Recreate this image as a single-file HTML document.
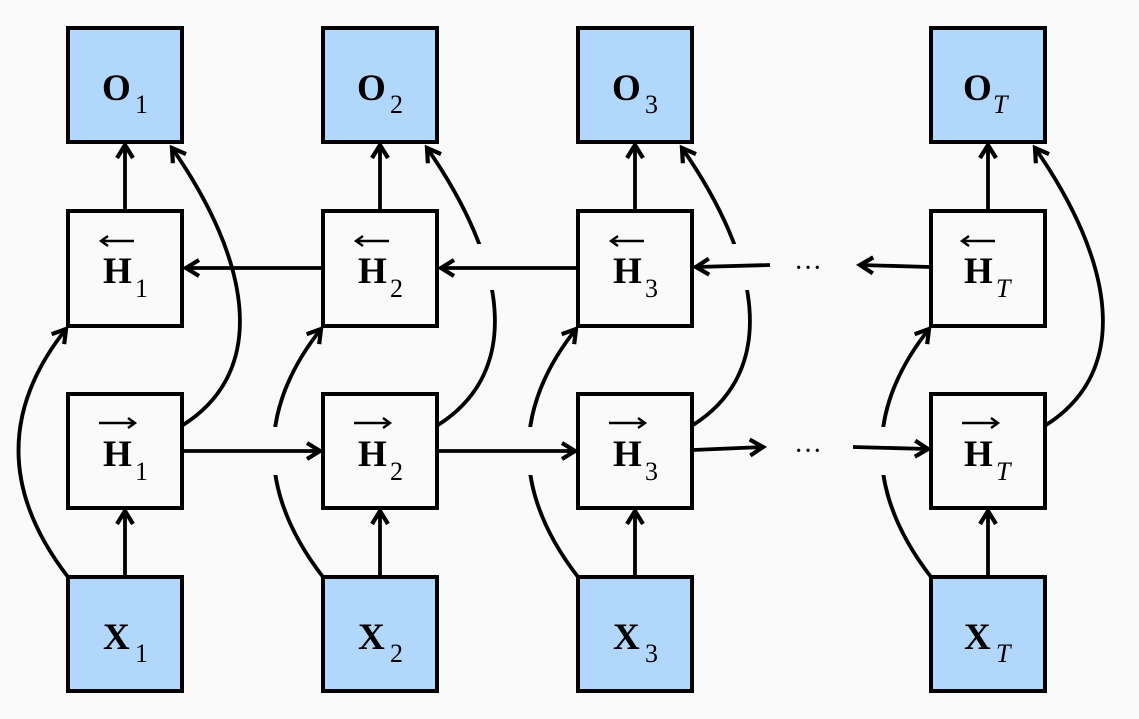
<!DOCTYPE html>
<html><head><meta charset="utf-8"><style>
html,body{margin:0;padding:0;background:#fafafa;}
svg{display:block}
svg text{font-family:"Liberation Serif","Times New Roman",Times,serif;}
</style></head><body>
<svg width="1139" height="719" viewBox="0 0 1139 719" xmlns="http://www.w3.org/2000/svg">
<defs>
<marker id="a" markerWidth="24" markerHeight="24" refX="15" refY="10" orient="auto" markerUnits="userSpaceOnUse">
<path d="M2,2 L15,10 L2,18" fill="none" stroke="#000" stroke-width="4.2"/>
</marker>
</defs>
<rect width="1139" height="719" fill="#fafafa"/>
<g fill="none" stroke="#000" stroke-width="3.8">
<path d="M68,577 Q-30,450 66,329" marker-end="url(#a)"/>
<path d="M183,425 C270,370 250,260 172,148" marker-end="url(#a)"/>
<path d="M323,577 Q225,450 321,329" marker-end="url(#a)"/>
<path d="M438,425 C525,370 505,260 427,148" marker-end="url(#a)"/>
<path d="M578,577 Q480,450 576,329" marker-end="url(#a)"/>
<path d="M693,425 C780,370 760,260 682,148" marker-end="url(#a)"/>
<path d="M931,577 Q833,450 929,329" marker-end="url(#a)"/>
<path d="M1046,425 C1133,370 1113,260 1035,148" marker-end="url(#a)"/>
</g>
<g fill="#fafafa">
<rect x="262" y="427" width="30" height="48"/>
<rect x="517" y="427" width="30" height="48"/>
<rect x="870" y="427" width="30" height="48"/>
<rect x="470" y="244" width="35" height="46"/>
<rect x="725" y="244" width="35" height="46"/>
</g>
<g fill="none" stroke="#000" stroke-width="3.8">
<line x1="125" y1="577" x2="125" y2="511" marker-end="url(#a)"/>
<line x1="380" y1="577" x2="380" y2="511" marker-end="url(#a)"/>
<line x1="635" y1="577" x2="635" y2="511" marker-end="url(#a)"/>
<line x1="988" y1="577" x2="988" y2="511" marker-end="url(#a)"/>
<line x1="125" y1="211" x2="125" y2="145" marker-end="url(#a)"/>
<line x1="380" y1="211" x2="380" y2="145" marker-end="url(#a)"/>
<line x1="635" y1="211" x2="635" y2="145" marker-end="url(#a)"/>
<line x1="988" y1="211" x2="988" y2="145" marker-end="url(#a)"/>
<line x1="183" y1="451" x2="320" y2="451" marker-end="url(#a)"/>
<line x1="438" y1="451" x2="575" y2="451" marker-end="url(#a)"/>
<line x1="693" y1="450" x2="763" y2="447" marker-end="url(#a)"/>
<line x1="853" y1="447" x2="928" y2="449" marker-end="url(#a)"/>
<line x1="323" y1="268" x2="186" y2="268" marker-end="url(#a)"/>
<line x1="578" y1="268" x2="441" y2="268" marker-end="url(#a)"/>
<line x1="770" y1="265" x2="696" y2="267" marker-end="url(#a)"/>
<line x1="930" y1="267" x2="860" y2="265" marker-end="url(#a)"/>
</g>
<g font-size="28" text-anchor="middle" fill="#000">
<text x="808" y="277">···</text>
<text x="808" y="460">···</text>
</g>
<g stroke="#000" stroke-width="4">
<g fill="#b2d7fc">
<rect x="68" y="28" width="114" height="114"/><rect x="323" y="28" width="114" height="114"/>
<rect x="578" y="28" width="114" height="114"/><rect x="931" y="28" width="114" height="114"/>
<rect x="68" y="577" width="114" height="114"/><rect x="323" y="577" width="114" height="114"/>
<rect x="578" y="577" width="114" height="114"/><rect x="931" y="577" width="114" height="114"/>
</g>
<g fill="#fafafa">
<rect x="68" y="211" width="114" height="115"/><rect x="323" y="211" width="114" height="115"/>
<rect x="578" y="211" width="114" height="115"/><rect x="931" y="211" width="114" height="115"/>
<rect x="68" y="394" width="114" height="114"/><rect x="323" y="394" width="114" height="114"/>
<rect x="578" y="394" width="114" height="114"/><rect x="931" y="394" width="114" height="114"/>
</g>
</g>
<g font-size="37" font-weight="bold" fill="#000">
<text x="102" y="100">O</text><text x="357" y="100">O</text><text x="612" y="100">O</text><text x="963" y="100">O</text>
<text x="103" y="649">X</text><text x="358" y="649">X</text><text x="613" y="649">X</text><text x="964" y="649">X</text>
<text x="103" y="283">H</text><text x="358" y="283">H</text><text x="613" y="283">H</text><text x="964" y="283">H</text>
<text x="103" y="466">H</text><text x="358" y="466">H</text><text x="613" y="466">H</text><text x="964" y="466">H</text>
</g>
<g font-size="26" fill="#000">
<text x="135" y="113">1</text><text x="390" y="113">2</text><text x="645" y="113">3</text><text x="993" y="113" font-style="italic">T</text>
<text x="135" y="662">1</text><text x="390" y="662">2</text><text x="645" y="662">3</text><text x="996" y="662" font-style="italic">T</text>
<text x="135" y="297">1</text><text x="390" y="297">2</text><text x="645" y="297">3</text><text x="996" y="297" font-style="italic">T</text>
<text x="135" y="480">1</text><text x="390" y="480">2</text><text x="645" y="480">3</text><text x="996" y="480" font-style="italic">T</text>
</g>
<g fill="none" stroke="#000" stroke-width="2.4">
<path d="M101,241 H134 M108,236 L101,241 L108,246"/>
<path d="M356,241 H389 M363,236 L356,241 L363,246"/>
<path d="M611,241 H644 M618,236 L611,241 L618,246"/>
<path d="M962,241 H995 M969,236 L962,241 L969,246"/>
<path d="M99,423 H135 M128,418 L135,423 L128,428"/>
<path d="M354,423 H390 M383,418 L390,423 L383,428"/>
<path d="M609,423 H645 M638,418 L645,423 L638,428"/>
<path d="M962,423 H998 M991,418 L998,423 L991,428"/>
</g>
</svg>
</body></html>
